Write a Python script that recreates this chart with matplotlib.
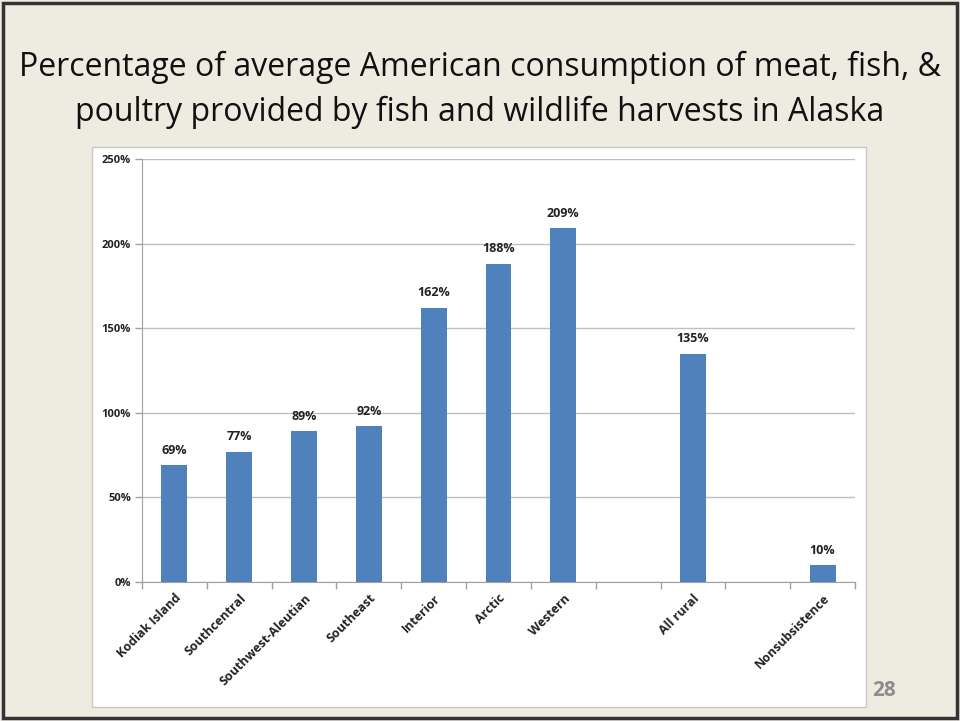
import matplotlib
matplotlib.use('Agg')
import matplotlib.pyplot as plt
from matplotlib.patches import Rectangle

categories = ['Kodiak Island', 'Southcentral', 'Southwest-Aleutian', 'Southeast',
              'Interior', 'Arctic', 'Western', '', 'All rural', '', 'Nonsubsistence']
values = [69, 77, 89, 92, 162, 188, 209, None, 135, None, 10]
yticks = [0, 50, 100, 150, 200, 250]

plt.rcParams['font.family'] = ['Open Sans', 'DejaVu Sans']

fig = plt.figure(figsize=(9.6, 7.21), dpi=100)
fig.patch.set_facecolor('#EEEBE1')

# slide border
fig.patches.append(Rectangle((3/960, 3/721), 954/960, 715/721, transform=fig.transFigure,
                             fill=False, edgecolor='#333333', linewidth=2.5, zorder=-2))
# white chart box
fig.patches.append(Rectangle((92/960, 1 - 707/721), 774/960, 560/721, transform=fig.transFigure,
                             facecolor='white', edgecolor='#C8C8C8', linewidth=1, zorder=-1))

fig.text(0.5, 1 - 67/721, 'Percentage of average American consumption of meat, fish, &',
         ha='center', va='center', fontsize=23, color='#111111')
fig.text(0.5, 1 - 112/721, 'poultry provided by fish and wildlife harvests in Alaska',
         ha='center', va='center', fontsize=23, color='#111111')
fig.text(884/960, 1 - 690/721, '28', ha='center', va='center', fontsize=15,
         fontweight='bold', color='#8C8C8C')

ax = fig.add_axes([142/960, 1 - 582/721, 713/960, 423/721])
ax.set_facecolor('none')

xs = [i for i, v in enumerate(values) if v is not None]
hs = [v for v in values if v is not None]
ax.bar(xs, hs, width=0.4, color='#4F81BD', zorder=3)
for x, h in zip(xs, hs):
    ax.text(x, h + 5, f'{h}%', ha='center', va='bottom', fontsize=9,
            fontweight='bold', color='#222222')

ax.set_xlim(-0.5, len(categories) - 0.5)
ax.set_ylim(0, 250)
ax.set_yticks(yticks)
ax.set_yticklabels([f'{t}%' for t in yticks], fontsize=8, fontweight='bold', color='#222222')
ax.yaxis.grid(True, color='#C0C0C0', linewidth=1, zorder=0)
ax.set_axisbelow(True)

ax.set_xticks(range(len(categories)))
ax.set_xticklabels(categories, rotation=45, ha='right', rotation_mode='anchor',
                   fontsize=9, fontweight='bold', color='#222222')
ax.tick_params(axis='x', length=0, pad=7)
ax.set_xticks([i - 0.5 for i in range(len(categories) + 1)], minor=True)
ax.tick_params(axis='x', which='minor', length=5, color='#A0A0A0', width=1)
ax.tick_params(axis='y', length=5, color='#A0A0A0', width=1, pad=3)

for s in ['top', 'right']:
    ax.spines[s].set_visible(False)
ax.spines['left'].set_color('#A0A0A0')
ax.spines['bottom'].set_color('#A0A0A0')

fig.savefig('out.png', dpi=100, facecolor=fig.get_facecolor())
